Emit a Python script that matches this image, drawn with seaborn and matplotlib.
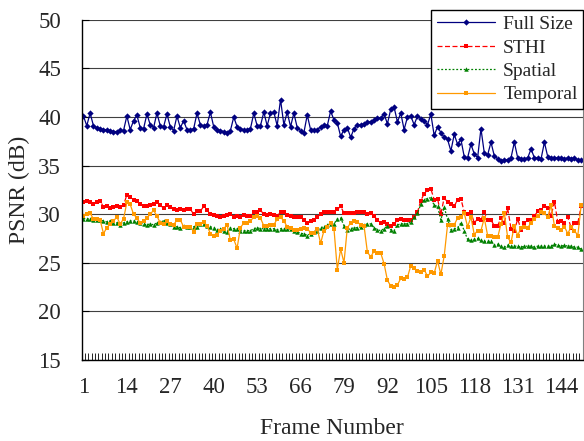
import numpy as np
import pandas as pd
import matplotlib
matplotlib.use('Agg')
import matplotlib.pyplot as plt
import seaborn as sns

# PSNR por frame
full_size = [40.1, 39.1, 40.4, 39.1, 38.9, 38.8, 38.7, 38.7, 38.6, 38.5, 38.5, 38.7, 38.6,
             40.1, 38.7, 39.6, 40.2, 38.9, 38.8, 40.3, 39.2, 38.9, 40.4, 39.1, 39.0, 40.3,
             39.0, 38.6, 40.1, 38.9, 39.6, 38.7, 38.7, 38.8, 40.4, 39.2, 39.1, 39.2, 40.5,
             39.0, 38.7, 38.6, 38.5, 38.4, 38.6, 40.0, 39.0, 38.8, 38.7,
             38.7, 38.8, 40.4, 39.1, 39.1, 40.5, 39.1, 40.4, 40.5, 39.1, 41.8, 39.2, 40.5,
             39.0, 40.4, 38.9, 38.6, 38.4, 40.2, 38.7, 38.7, 38.7, 39.0, 39.2, 39.1, 40.6,
             39.7, 39.4, 38.0, 38.7, 38.9, 37.9, 38.8, 39.2, 39.2, 39.3, 39.5, 39.5, 39.7,
             39.9, 39.9, 40.3, 39.3, 40.8, 41.0, 39.5, 40.4,
             38.7, 40.0, 40.1, 39.2, 40.1, 39.8, 39.6, 39.2, 40.3, 38.1, 39.0, 38.4, 37.9,
             37.7, 36.5, 38.2, 37.2, 37.7, 35.9, 35.8, 37.2, 36.2, 35.8, 38.8, 36.3, 36.1,
             37.4, 36.0, 35.7, 35.5, 35.6, 35.6, 35.8, 37.4, 35.8, 35.7, 35.7, 35.8, 36.7,
             35.8, 35.8, 35.7, 37.4, 35.9, 35.8, 35.8, 35.8, 35.8, 35.7, 35.8, 35.7, 35.8, 35.6, 35.6]

sthi = [31.3, 31.4, 31.3, 31.0, 31.2, 31.4, 30.7, 30.8, 30.6, 30.7, 30.8, 30.7, 30.9,
        32.0, 31.8, 31.5, 31.4, 31.0, 30.8, 30.8, 30.9, 31.0, 31.3, 30.9, 30.6, 30.9,
        30.7, 30.5, 30.4, 30.5, 30.4, 30.5, 30.5, 30.0, 30.3, 30.3, 30.8,
        30.4, 30.0, 29.9, 29.8, 29.7, 29.8, 29.9, 30.0, 29.7, 29.8, 29.7, 29.9, 29.8,
        29.8, 30.2, 30.2, 30.4, 30.0, 29.9, 30.0, 29.9, 29.8, 30.2, 30.2, 29.9, 29.8,
        29.7, 29.7, 29.7, 29.4, 29.1, 29.3, 29.4, 29.7, 30.0, 30.2, 30.2, 30.2,
        30.2, 30.5, 30.8, 30.1, 30.1, 30.1, 30.1, 30.2, 30.2, 30.2, 30.0, 30.1, 29.8,
        29.4, 29.1, 29.2, 29.0, 28.8, 29.0, 29.4, 29.5, 29.4, 29.4, 29.4, 29.7, 30.2,
        31.4, 32.1, 32.5, 32.6, 31.5, 31.6, 30.0, 31.7, 31.2, 31.0, 30.8, 31.5,
        31.6, 30.2, 30.0, 30.2, 29.1, 29.5, 29.4, 30.2, 29.4, 29.4, 28.8, 28.8, 29.6,
        29.1, 30.6, 28.5, 28.3, 29.5, 28.4, 29.1, 29.4, 29.4, 29.8, 30.3, 30.4, 30.8,
        30.6, 29.8, 31.3, 29.2, 29.3, 29.1, 29.7, 28.6, 29.1, 29.1, 30.8]

spatial = [29.55, 29.5, 29.5, 29.4, 29.4, 29.4, 29.3, 29.2, 29.3, 29.1, 29.1, 28.9, 29.1,
           29.2, 29.3, 29.3, 29.2, 29.1, 29.0, 28.9, 29.0, 28.9, 29.1, 29.2, 29.3, 29.1,
           29.0, 28.7, 28.7, 28.6, 28.8, 28.7, 28.7, 28.7, 28.7, 29.0, 29.0,
           28.8, 28.7, 28.6, 28.4, 28.5, 28.3, 28.2, 28.6, 28.5, 28.5, 28.3, 28.3, 28.3,
           28.3, 28.5, 28.6, 28.5, 28.5, 28.5, 28.5, 28.5, 28.4, 28.5, 28.5, 28.5, 28.5,
           28.3, 28.2, 28.0, 28.0, 27.8, 28.0, 28.2, 28.3, 28.6, 28.7, 28.9, 29.0,
           29.0, 29.5, 29.6, 28.8, 28.4, 28.5, 28.6, 28.6, 28.7, 28.9, 29.0, 29.0, 28.6,
           28.4, 28.3, 28.5, 28.8, 28.4, 28.3, 28.9, 29.0, 29.0, 29.0, 29.2, 29.7, 30.1,
           31.0, 31.5, 31.6, 31.7, 30.9, 30.8, 29.4, 30.7, 29.5, 28.4, 28.5, 28.6,
           29.1, 28.3, 27.4, 27.3, 27.4, 27.5, 27.3, 27.2, 27.2, 27.2, 26.8, 26.9, 26.7,
           26.6, 26.8, 26.7, 26.7, 26.7, 26.6, 26.7, 26.7, 26.7, 26.6, 26.7, 26.7, 26.7,
           26.7, 26.7, 26.9, 26.8, 26.7, 26.8, 26.7, 26.7, 26.6, 26.6, 26.4]

temporal = [29.8, 30.0, 30.1, 29.5, 29.5, 29.4, 28.0, 28.6, 29.0, 29.3, 29.7, 29.0, 29.5,
            31.2, 31.0, 30.0, 29.6, 29.1, 29.3, 29.6, 30.0, 30.4, 29.8, 29.1, 29.0, 29.3,
            29.0, 28.9, 29.4, 29.4, 28.7, 28.7, 28.7, 28.2, 29.0, 29.0, 29.2,
            28.8, 28.0, 27.7, 27.9, 28.3, 28.5, 28.9, 27.3, 27.4, 26.5, 28.6, 29.1, 29.1,
            29.3, 29.7, 29.8, 29.6, 28.8, 28.8, 28.9, 28.9, 29.5, 29.7, 29.3, 28.7, 28.6,
            28.4, 28.4, 28.5, 28.6, 28.5, 28.1, 28.1, 28.5, 27.0, 28.3, 28.7, 29.1,
            28.5, 24.3, 26.4, 25.0, 28.6, 29.1, 29.3, 29.2, 28.9, 28.8, 26.1, 25.6, 26.2,
            26.0, 26.0, 24.9, 23.2, 22.6, 22.5, 22.7, 23.4, 23.3, 23.5, 24.7, 24.5, 24.1,
            24.0, 24.3, 23.6, 24.0, 23.9, 25.2, 23.8, 25.7, 28.9, 28.9, 28.9, 29.6,
            29.7, 30.1, 28.7, 29.7, 27.9, 28.3, 28.3, 29.6, 27.8, 27.8, 27.6, 27.6, 29.0,
            30.1, 27.6, 27.1, 28.8, 27.8, 28.6, 28.7, 28.6, 29.1, 29.5, 29.8, 30.2, 30.1,
            29.7, 30.9, 28.8, 28.6, 28.4, 28.7, 28.0, 28.7, 28.3, 27.8, 30.9]

series_names = ['Full Size', 'STHI', 'Spatial', 'Temporal']
frames = np.arange(1, len(full_size) + 1)
tick_frames = list(range(1, 145, 13))

dados = pd.concat([
    pd.DataFrame({'Frame': frames, 'PSNR': vals, 'Serie': nome})
    for nome, vals in zip(series_names, [full_size, sthi, spatial, temporal])
])

sns.set_style('white')
plt.rcParams['font.family'] = ['Liberation Serif', 'DejaVu Serif']

fig = plt.figure(figsize=(5.84, 4.41), dpi=100)
ax = fig.add_axes([0.140, 0.184, 0.858, 0.771])

cores = {'Full Size': '#000080', 'STHI': '#FF0000', 'Spatial': '#008000', 'Temporal': '#FF9900'}
marcadores = {'Full Size': 'D', 'STHI': 's', 'Spatial': '^', 'Temporal': 's'}
tracos = {'Full Size': '', 'STHI': (4, 2), 'Spatial': (1.5, 1.5), 'Temporal': ''}

sns.lineplot(data=dados, x='Frame', y='PSNR', hue='Serie', style='Serie',
             hue_order=series_names, style_order=series_names,
             palette=cores, markers=marcadores, dashes=tracos,
             markersize=3.2, markeredgewidth=0, linewidth=0.9, ax=ax)

# eixos no estilo do Excel
ax.set_ylim(15, 50)
ax.set_yticks(range(15, 51, 5))
ax.set_xlim(0.5, len(frames) + 0.5)
ax.set_xticks(tick_frames)
ax.set_xticklabels([str(t) for t in tick_frames])
ax.set_xticks(np.arange(0.5, len(frames) + 1, 1), minor=True)
ax.tick_params(axis='x', which='major', length=0, pad=12, labelsize=16.5)
ax.tick_params(axis='x', which='minor', direction='in', length=5, width=0.6, color='black', bottom=True)
ax.tick_params(axis='y', direction='in', length=5, width=0.8, color='black', left=True, pad=15, labelsize=16.5)
ax.yaxis.grid(True, color='#404040', linewidth=0.8)
ax.set_axisbelow(True)
for lado in ['left', 'bottom']:
    ax.spines[lado].set_color('black')
    ax.spines[lado].set_linewidth(1.0)
ax.spines['top'].set_visible(False)
ax.spines['right'].set_color('#808080')

ax.set_xlabel('Frame Number', fontsize=17, labelpad=15)
ax.set_ylabel('PSNR (dB)', fontsize=17, labelpad=6)

handles, labels = ax.get_legend_handles_labels()
ax.get_legend().remove()
leg = fig.legend(handles, labels, loc='upper right', bbox_to_anchor=(0.999, 0.978),
                 fontsize=14, frameon=True, fancybox=False, framealpha=1,
                 edgecolor='black', handlelength=3, borderpad=0.3, labelspacing=0.3,
                 handletextpad=0.4, borderaxespad=0)
leg.get_frame().set_linewidth(1.0)

plt.savefig('out.png', dpi=100)
